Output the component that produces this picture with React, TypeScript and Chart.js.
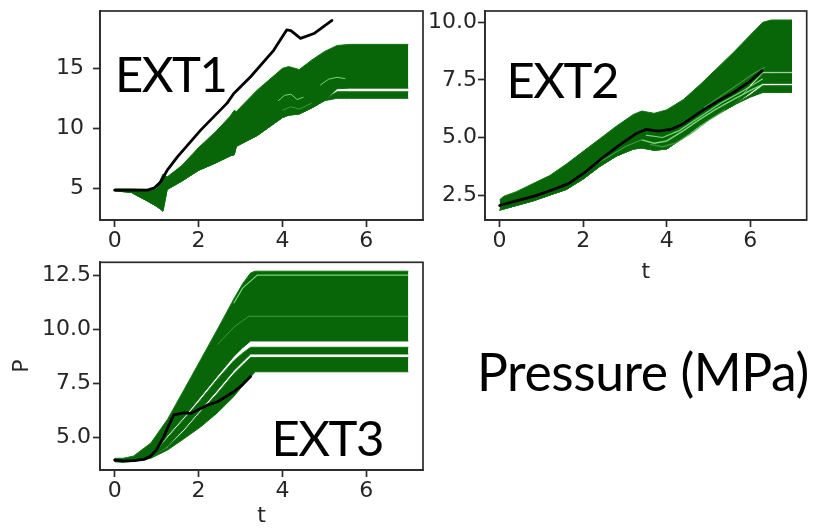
import React, { useEffect, useRef } from "react";
import { Chart, registerables } from "chart.js";

Chart.register(...registerables);

// ---------------- tick labels ----------------
const T_TICKS = [0, 2, 4, 6];
const EXT1_P_TICKS = [5, 10, 15];
const EXT2_P_TICKS = [2.5, 5.0, 7.5, 10.0];
const EXT3_P_TICKS = [5.0, 7.5, 10.0, 12.5];

// ---------------- EXT1 ----------------
const EXT1_T = [0, 0.4, 0.8, 1.0, 1.15, 1.25, 1.6, 2.0, 2.4, 2.75, 2.85, 2.9, 3.4, 4.0, 4.15, 4.4, 4.7, 5.0, 5.3, 5.6, 7.0];
const EXT1_UPPER = [4.95, 4.95, 4.9, 5.0, 6.2, 5.95, 6.9, 8.4, 9.7, 11.0, 11.5, 11.4, 13.2, 15.0, 15.15, 14.9, 15.7, 16.4, 16.9, 17.0, 17.0];
const EXT1_UPPER_BAND_BOTTOM = [4.8, 4.65, 3.9, 3.5, 3.1, 4.9, 5.6, 6.5, 7.1, 7.7, 7.8, 8.5, 9.4, 10.9, 11.1, 11.2, 11.7, 12.3, 13.3, 13.35, 13.35];
const EXT1_LOWER_BAND_TOP = [4.8, 4.65, 3.9, 3.5, 3.1, 4.9, 5.6, 6.5, 7.1, 7.7, 7.8, 8.5, 9.4, 10.9, 11.1, 11.2, 11.7, 12.4, 13.05, 13.05, 13.05];
const EXT1_LOWER = [4.8, 4.65, 3.9, 3.5, 3.1, 4.9, 5.6, 6.5, 7.1, 7.7, 7.8, 8.5, 9.4, 10.9, 11.1, 11.2, 11.7, 12.3, 12.5, 12.5, 12.5];
const EXT1_STREAK_A_T = [3.9, 4.05, 4.2, 4.35, 4.5];
const EXT1_STREAK_A_P = [12.3, 12.75, 12.85, 12.4, 12.6];
const EXT1_STREAK_B_T = [4.9, 5.1, 5.3, 5.5];
const EXT1_STREAK_B_P = [13.6, 14.1, 14.25, 14.15];
const EXT1_STREAK_C_T = [4.0, 4.2, 4.4, 4.7];
const EXT1_STREAK_C_P = [11.5, 11.8, 11.6, 12.1];
const EXT1_OBS_T = [0, 0.4, 0.78, 0.95, 1.1, 1.25, 1.49, 2.05, 2.68, 2.84, 3.24, 3.79, 4.1, 4.2, 4.43, 4.75, 5.18];
const EXT1_OBS_P = [4.85, 4.85, 4.85, 5.05, 5.55, 6.5, 7.6, 9.85, 12.1, 12.9, 14.3, 16.5, 18.2, 18.15, 17.5, 17.9, 19.0];

// ---------------- EXT2 ----------------
const EXT2_T = [0, 0.1, 0.4, 0.8, 1.2, 1.6, 2.0, 2.4, 2.8, 3.2, 3.4, 3.7, 4.0, 4.4, 4.8, 5.2, 5.6, 6.0, 6.3, 6.5, 7.0];
const EXT2_UPPER = [2.3, 2.45, 2.65, 3.0, 3.35, 3.85, 4.4, 4.95, 5.5, 6.0, 6.15, 6.05, 6.2, 6.65, 7.3, 8.0, 8.7, 9.45, 10.0, 10.1, 10.1];
const EXT2_BAND_A_BOTTOM = [1.85, 1.9, 2.05, 2.25, 2.5, 2.75, 3.2, 3.75, 4.2, 4.5, 4.55, 4.45, 4.5, 5.0, 5.55, 6.0, 6.4, 7.3, 7.85, 7.85, 7.85];
const EXT2_BAND_B_TOP = [1.85, 1.9, 2.05, 2.25, 2.5, 2.75, 3.2, 3.75, 4.2, 4.5, 4.55, 4.45, 4.5, 5.0, 5.55, 6.0, 6.4, 7.2, 7.78, 7.78, 7.78];
const EXT2_BAND_B_BOTTOM = [1.85, 1.9, 2.05, 2.25, 2.5, 2.75, 3.2, 3.75, 4.2, 4.5, 4.55, 4.45, 4.5, 5.0, 5.55, 6.0, 6.4, 6.95, 7.35, 7.35, 7.35];
const EXT2_BAND_C_TOP = [1.85, 1.9, 2.05, 2.25, 2.5, 2.75, 3.2, 3.75, 4.2, 4.5, 4.55, 4.45, 4.5, 5.0, 5.55, 6.0, 6.4, 6.85, 7.25, 7.25, 7.25];
const EXT2_LOWER = [1.85, 1.9, 2.05, 2.25, 2.5, 2.75, 3.2, 3.75, 4.2, 4.5, 4.55, 4.45, 4.5, 5.0, 5.55, 6.0, 6.4, 6.75, 6.95, 6.95, 6.95];
const EXT2_STREAK_A_T = [3.4, 3.7, 4.0, 4.4, 4.8, 5.2, 5.6, 6.0, 6.3];
const EXT2_STREAK_A_P = [4.9, 4.75, 4.85, 5.3, 5.8, 6.25, 6.65, 7.05, 7.3];
const EXT2_STREAK_B_T = [3.5, 3.9, 4.3, 4.8, 5.3, 5.8, 6.3];
const EXT2_STREAK_B_P = [5.1, 5.0, 5.3, 5.9, 6.5, 7.0, 7.55];
const EXT2_STREAK_C_T = [2.2, 2.6, 3.0, 3.4];
const EXT2_STREAK_C_P = [3.75, 4.15, 4.6, 4.9];
const EXT2_STREAK_D_T = [3.6, 3.9, 4.2, 4.6, 5.0, 5.4];
const EXT2_STREAK_D_P = [4.7, 4.6, 4.75, 5.2, 5.75, 6.2];
const EXT2_STREAK_E_T = [4.9, 5.3, 5.7, 6.1, 6.35];
const EXT2_STREAK_E_P = [6.3, 6.8, 7.3, 7.8, 8.05];
const EXT2_OBS_T = [0, 0.4, 0.85, 1.25, 1.65, 2.05, 2.45, 2.85, 3.25, 3.5, 3.8, 4.1, 4.4, 4.8, 5.2, 5.6, 6.0, 6.28];
const EXT2_OBS_P = [2.05, 2.25, 2.47, 2.72, 3.0, 3.5, 4.1, 4.65, 5.15, 5.35, 5.28, 5.35, 5.6, 6.1, 6.55, 6.95, 7.45, 7.9];

// ---------------- EXT3 ----------------
const EXT3_T = [0, 0.2, 0.45, 0.86, 1.26, 1.65, 2.05, 2.45, 2.84, 3.05, 3.24, 3.35, 7.0];
const EXT3_UPPER = [4.05, 4.05, 4.15, 4.75, 5.85, 7.2, 8.6, 10.0, 11.4, 12.1, 12.6, 12.68, 12.68];
const EXT3_BAND_A_BOTTOM = [3.9, 3.9, 3.95, 4.1, 5.1, 5.95, 6.9, 7.85, 8.75, 9.15, 9.46, 9.46, 9.46];
const EXT3_BAND_B_TOP = [3.9, 3.9, 3.95, 4.1, 5.0, 5.85, 6.75, 7.7, 8.55, 8.9, 9.17, 9.17, 9.17];
const EXT3_BAND_B_BOTTOM = [3.9, 3.88, 3.92, 4.07, 4.6, 5.4, 6.3, 7.2, 8.1, 8.5, 8.86, 8.86, 8.86];
const EXT3_BAND_C_TOP = [3.9, 3.88, 3.92, 4.07, 4.55, 5.3, 6.2, 7.05, 7.95, 8.35, 8.7, 8.7, 8.7];
const EXT3_LOWER = [3.9, 3.88, 3.9, 4.05, 4.43, 4.95, 5.5, 6.15, 6.9, 7.4, 7.8, 8.04, 8.04];
const EXT3_STREAK_A_T = [2.84, 3.05, 3.4, 7.0];
const EXT3_STREAK_A_P = [11.2, 11.9, 12.5, 12.5];
const EXT3_STREAK_B_T = [2.45, 2.84, 3.2, 7.0];
const EXT3_STREAK_B_P = [9.3, 10.1, 10.6, 10.6];
const EXT3_OBS_T = [0, 0.2, 0.45, 0.7, 0.86, 1.0, 1.17, 1.3, 1.41, 1.65, 1.81, 2.21, 2.45, 2.84, 3.05, 3.24];
const EXT3_OBS_P = [3.97, 3.93, 3.94, 4.0, 4.15, 4.45, 5.05, 5.6, 6.05, 6.15, 6.12, 6.5, 6.66, 7.12, 7.45, 7.82];

// ---------------- styling ----------------
const GREEN = "rgb(8,102,8)";
const GREEN_EDGE = "rgb(22,118,22)";
const LIGHT_GREEN = "rgba(140,232,140,0.85)";
const SOFT_GREEN = "rgba(70,165,70,0.8)";
const AXIS_COLOR = "#2b2b2b";
const TICK_COLOR = "#262626";
const TICK_FONT = "'DejaVu Sans', sans-serif";
const LABEL_FONT = "Lato, 'Open Sans', sans-serif";

function pts(t: number[], p: number[]) {
  return t.map((x, i) => ({ x, y: p[i] }));
}

function band(t: number[], top: number[], bottom: number[]) {
  return [
    { data: pts(t, top), borderColor: GREEN_EDGE, borderWidth: 1, backgroundColor: GREEN, fill: "+1", pointRadius: 0, order: 3 },
    { data: pts(t, bottom), borderColor: GREEN_EDGE, borderWidth: 1, backgroundColor: GREEN, fill: false, pointRadius: 0, order: 3 },
  ];
}

function streak(t: number[], p: number[], color: string, width = 1.2) {
  return { data: pts(t, p), borderColor: color, borderWidth: width, fill: false, pointRadius: 0, order: 1 };
}

function observed(t: number[], p: number[]) {
  return {
    data: pts(t, p), borderColor: "#000", borderWidth: 2.8, fill: false, pointRadius: 0, order: 0,
    borderCapStyle: "round", borderJoinStyle: "round",
  };
}

const framePlugin = {
  id: "frame",
  afterDatasetsDraw(chart: any) {
    const { ctx, chartArea } = chart;
    ctx.save();
    ctx.strokeStyle = AXIS_COLOR;
    ctx.lineWidth = 1.7;
    ctx.strokeRect(chartArea.left, chartArea.top, chartArea.right - chartArea.left, chartArea.bottom - chartArea.top);
    ctx.restore();
  },
};

interface PanelSpec {
  x: number; y: number; w: number; h: number;
  pad: { left: number; top: number; right: number; bottom: number };
  yAxisWidth: number; xAxisHeight: number;
  yMin: number; yMax: number; yTicks: number[]; yDecimals: number; yTickPad: number;
  xTitle?: string; yTitle?: string;
  datasets: any[];
}

function buildConfig(s: PanelSpec): any {
  const tickFont = { size: 22, family: TICK_FONT };
  return {
    type: "line",
    data: { datasets: s.datasets },
    options: {
      animation: false,
      responsive: false,
      maintainAspectRatio: false,
      layout: { padding: s.pad },
      plugins: { legend: { display: false }, tooltip: { enabled: false } },
      elements: { point: { radius: 0 }, line: { tension: 0 } },
      scales: {
        x: {
          type: "linear", min: -0.35, max: 7.35,
          afterBuildTicks: (sc: any) => { sc.ticks = T_TICKS.map((v) => ({ value: v })); },
          afterFit: (sc: any) => { sc.height = s.xAxisHeight; sc.paddingLeft = 0; sc.paddingRight = 0; sc.paddingTop = 0; sc.paddingBottom = 0; },
          ticks: { color: TICK_COLOR, font: tickFont, padding: 1, maxRotation: 0, minRotation: 0, autoSkip: false, callback: (v: any) => String(v) },
          grid: { drawOnChartArea: false, drawTicks: true, tickLength: 7, tickWidth: 1.7, tickColor: AXIS_COLOR },
          border: { display: true, color: AXIS_COLOR, width: 1.7 },
          title: s.xTitle ? { display: true, text: s.xTitle, color: TICK_COLOR, font: tickFont, padding: 0 } : { display: false },
        },
        y: {
          type: "linear", min: s.yMin, max: s.yMax,
          afterBuildTicks: (sc: any) => { sc.ticks = s.yTicks.map((v) => ({ value: v })); },
          afterFit: (sc: any) => { sc.width = s.yAxisWidth; sc.paddingLeft = 0; sc.paddingRight = 0; sc.paddingTop = 0; sc.paddingBottom = 0; },
          ticks: { color: TICK_COLOR, font: tickFont, padding: s.yTickPad, autoSkip: false, callback: (v: any) => Number(v).toFixed(s.yDecimals) },
          grid: { drawOnChartArea: false, drawTicks: true, tickLength: 7, tickWidth: 1.7, tickColor: AXIS_COLOR },
          border: { display: true, color: AXIS_COLOR, width: 1.7 },
          title: s.yTitle ? { display: true, text: s.yTitle, color: TICK_COLOR, font: tickFont, padding: 0 } : { display: false },
        },
      },
    },
    plugins: [framePlugin],
  };
}

function Panel({ spec }: { spec: PanelSpec }) {
  const ref = useRef<HTMLCanvasElement | null>(null);
  useEffect(() => {
    const chart = new Chart(ref.current as HTMLCanvasElement, buildConfig(spec));
    return () => chart.destroy();
  }, [spec]);
  return (
    <canvas
      ref={ref}
      width={spec.w}
      height={spec.h}
      style={{ position: "absolute", left: spec.x, top: spec.y, width: spec.w, height: spec.h }}
    />
  );
}

const PANEL1: PanelSpec = {
  x: 0, y: 0, w: 440, h: 255,
  pad: { left: 0, top: 11, right: 17, bottom: 0 },
  yAxisWidth: 100, xAxisHeight: 35,
  yMin: 2.36, yMax: 19.78, yTicks: EXT1_P_TICKS, yDecimals: 0, yTickPad: 9,
  datasets: [
    ...band(EXT1_T, EXT1_UPPER, EXT1_UPPER_BAND_BOTTOM),
    ...band(EXT1_T, EXT1_LOWER_BAND_TOP, EXT1_LOWER),
    streak(EXT1_STREAK_A_T, EXT1_STREAK_A_P, LIGHT_GREEN, 1),
    streak(EXT1_STREAK_B_T, EXT1_STREAK_B_P, LIGHT_GREEN, 1),
    streak(EXT1_STREAK_C_T, EXT1_STREAK_C_P, SOFT_GREEN, 1),
    observed(EXT1_OBS_T, EXT1_OBS_P),
  ],
};

const PANEL2: PanelSpec = {
  x: 410, y: 0, w: 404, h: 300,
  pad: { left: 0, top: 11, right: 7.3, bottom: 14.4 },
  yAxisWidth: 75, xAxisHeight: 65.6,
  yMin: 1.42, yMax: 10.49, yTicks: EXT2_P_TICKS, yDecimals: 1, yTickPad: 1,
  xTitle: "t",
  datasets: [
    ...band(EXT2_T, EXT2_UPPER, EXT2_BAND_A_BOTTOM),
    ...band(EXT2_T, EXT2_BAND_B_TOP, EXT2_BAND_B_BOTTOM),
    ...band(EXT2_T, EXT2_BAND_C_TOP, EXT2_LOWER),
    streak(EXT2_STREAK_A_T, EXT2_STREAK_A_P, LIGHT_GREEN, 1.4),
    streak(EXT2_STREAK_B_T, EXT2_STREAK_B_P, LIGHT_GREEN, 1.2),
    streak(EXT2_STREAK_C_T, EXT2_STREAK_C_P, SOFT_GREEN, 1.2),
    streak(EXT2_STREAK_D_T, EXT2_STREAK_D_P, SOFT_GREEN, 1.4),
    streak(EXT2_STREAK_E_T, EXT2_STREAK_E_P, SOFT_GREEN, 1.2),
    observed(EXT2_OBS_T, EXT2_OBS_P),
  ],
};

const PANEL3: PanelSpec = {
  x: 0, y: 250, w: 440, h: 282,
  pad: { left: 9, top: 12.3, right: 17, bottom: 2.4 },
  yAxisWidth: 91, xAxisHeight: 59.6,
  yMin: 3.51, yMax: 13.09, yTicks: EXT3_P_TICKS, yDecimals: 1, yTickPad: 2,
  xTitle: "t", yTitle: "P",
  datasets: [
    ...band(EXT3_T, EXT3_UPPER, EXT3_BAND_A_BOTTOM),
    ...band(EXT3_T, EXT3_BAND_B_TOP, EXT3_BAND_B_BOTTOM),
    ...band(EXT3_T, EXT3_BAND_C_TOP, EXT3_LOWER),
    streak(EXT3_STREAK_A_T, EXT3_STREAK_A_P, LIGHT_GREEN, 1.2),
    streak(EXT3_STREAK_B_T, EXT3_STREAK_B_P, SOFT_GREEN, 1),
    observed(EXT3_OBS_T, EXT3_OBS_P),
  ],
};

const bigText: React.CSSProperties = {
  position: "absolute",
  fontFamily: LABEL_FONT,
  color: "#000",
  whiteSpace: "nowrap",
  margin: 0,
};

export default function App() {
  return (
    <div style={{ position: "fixed", left: 0, top: 0, width: 814, height: 532, background: "#fff", overflow: "hidden" }}>
      <Panel spec={PANEL1} />
      <Panel spec={PANEL2} />
      <Panel spec={PANEL3} />
      <div style={{ ...bigText, left: 115, top: 48.7, fontSize: 49, lineHeight: "49px", letterSpacing: -1.5 }}>EXT1</div>
      <div style={{ ...bigText, left: 506.5, top: 54.7, fontSize: 49, lineHeight: "49px", letterSpacing: -1.5 }}>EXT2</div>
      <div style={{ ...bigText, left: 271.5, top: 412.7, fontSize: 49, lineHeight: "49px", letterSpacing: -1.5 }}>EXT3</div>
      <div style={{ ...bigText, left: 477, top: 346.2, fontSize: 51.6, lineHeight: "51.6px", letterSpacing: -0.4 }}>Pressure (MPa)</div>
    </div>
  );
}
